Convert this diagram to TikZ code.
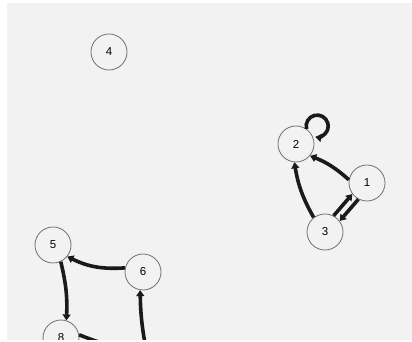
\documentclass[tikz,border=0pt]{standalone}
\usepackage{fontspec}
\setmainfont{Liberation Sans}
\usetikzlibrary{arrows.meta}
\definecolor{bg}{HTML}{F2F2F2}
\definecolor{ring}{HTML}{707070}
\definecolor{ink}{HTML}{1A1A1A}
\begin{document}
\begin{tikzpicture}[x=1pt,y=1pt,
  vertex/.style={circle,draw=ring,line width=0.8pt,minimum size=36pt,inner sep=0pt,font=\fontsize{11.5}{13}\selectfont},
  edge/.style={draw=ink,line width=3.6pt,-{Triangle[length=6pt,width=8pt]}}]
\useasboundingbox (0,0) rectangle (412,342);
\fill[white] (0,0) rectangle (412,342);
\fill[bg] (7,2) rectangle (412,339);
\begin{scope}
\clip (7,2) rectangle (412,339);
\node[vertex] (n4) at (109,290) {4};
\node[vertex] (n2) at (296,198) {2};
\node[vertex] (n1) at (367,159) {1};
\node[vertex] (n3) at (325,110) {3};
\node[vertex] (n5) at (53,97) {5};
\node[vertex] (n6) at (143,70) {6};
\node[vertex] (n8) at (61,4) {8};
\coordinate (o8) at (130,-8);
\coordinate (o6) at (147,-12);
\draw[edge] (n2.55) arc[start angle=195,end angle=-100,radius=11];
\draw[edge] (n1.170) to[bend right=10] (n2.-40);
\draw[edge] (n3.128) to[bend left=10] (n2.-95);
\draw[edge] (n3.62) -- (n1.217);
\draw[edge] (n1.242) -- (n3.37);
\draw[edge] (n6.167) to[bend left=15] (n5.-39);
\draw[edge] (n5.-65) to[bend left=8] (n8.73);
\draw[edge] (n8.10) to[bend right=5] (o8);
\draw[edge] (o6) to[bend left=5] (n6.-99);
\end{scope}
\end{tikzpicture}
\end{document}
